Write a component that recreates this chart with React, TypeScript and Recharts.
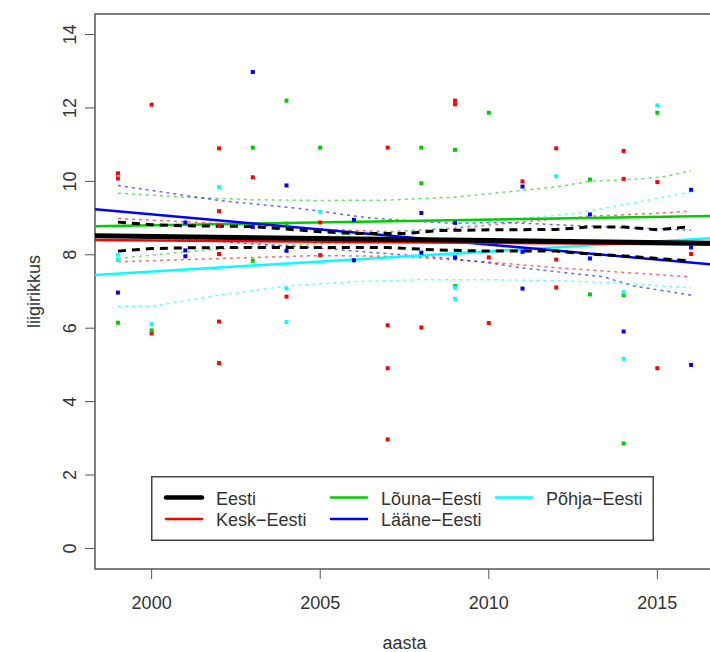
import React from "react";
import {
  ComposedChart,
  XAxis,
  YAxis,
  Scatter,
  Line,
  ReferenceArea,
  Legend,
  Label,
} from "recharts";

// ---------- data ----------
const xTicks = [2000, 2005, 2010, 2015];
const yTicks = [0, 2, 4, 6, 8, 10, 12, 14];
const xDomain: [number, number] = [1998.32, 2016.68];
const yDomain: [number, number] = [-0.56, 14.56];

// observed points [year, value]
const keskPoints: [number, number][] = [
  [1999, 10.08], [1999, 10.22], [2000, 12.09], [2000, 5.86],
  [2002, 10.9], [2002, 9.19], [2002, 8.79], [2002, 8.02], [2002, 6.18], [2002, 5.05],
  [2003, 10.11], [2004, 6.86], [2005, 8.88], [2005, 7.99],
  [2007, 10.92], [2007, 6.08], [2007, 4.91], [2007, 2.97], [2008, 6.02],
  [2009, 12.1], [2009, 12.2], [2010, 7.93], [2010, 6.14], [2011, 10.0],
  [2012, 10.9], [2012, 7.87], [2012, 7.11], [2014, 10.83], [2014, 10.07],
  [2015, 9.98], [2015, 4.91], [2016, 8.02],
];
const lounaPoints: [number, number][] = [
  [1999, 6.15], [2000, 5.94], [2003, 10.92], [2003, 7.84], [2004, 12.2], [2004, 8.85],
  [2005, 10.92], [2008, 10.92], [2008, 9.95], [2009, 10.86], [2009, 7.15],
  [2010, 11.87], [2013, 10.05], [2013, 6.92], [2014, 6.9], [2014, 2.86], [2015, 11.87],
];
const laanePoints: [number, number][] = [
  [1999, 6.97], [2001, 8.88], [2001, 8.12], [2001, 7.96], [2003, 12.98], [2003, 8.76],
  [2004, 9.89], [2004, 8.11], [2006, 8.95], [2006, 7.85], [2008, 9.14], [2008, 8.06],
  [2009, 8.87], [2009, 7.93], [2011, 9.86], [2011, 8.08], [2011, 7.08],
  [2013, 9.1], [2013, 7.9], [2014, 5.91], [2016, 9.77], [2016, 8.2], [2016, 5.0],
];
const pohjaPoints: [number, number][] = [
  [1999, 7.86], [1999, 8.0], [2000, 6.11], [2002, 9.85], [2004, 7.08], [2004, 6.17],
  [2005, 9.17], [2009, 7.1], [2009, 6.8], [2012, 10.14], [2014, 6.98], [2014, 5.17],
  [2015, 12.07],
];

// fitted lines: values at the two plot edges
const fitYears = [1998.32, 2016.68];
const eestiFit = [8.52, 8.31];
const keskFit = [8.4, 8.28];
const lounaFit = [8.78, 9.06];
const laaneFit = [9.24, 7.73];
const pohjaFit = [7.45, 8.46];

// bands [year, value]
const eestiUpper: [number, number][] = [
  [1999, 8.89], [2000, 8.82], [2001, 8.79], [2003, 8.77], [2004, 8.7], [2005, 8.63],
  [2006, 8.58], [2007.5, 8.58], [2008.5, 8.66], [2010, 8.68], [2012, 8.69],
  [2013, 8.76], [2014, 8.76], [2015, 8.68], [2016, 8.77],
];
const eestiLower: [number, number][] = [
  [1999, 8.1], [2000, 8.17], [2001, 8.19], [2003, 8.2], [2005, 8.2], [2007, 8.2],
  [2008.5, 8.13], [2010, 8.1], [2012, 8.1], [2013, 8.02], [2014, 7.97], [2015, 7.9], [2016, 7.83],
];
const keskUpper: [number, number][] = [
  [1999, 8.99], [2001, 8.9], [2003, 8.8], [2005, 8.7], [2007, 8.63], [2009, 8.72],
  [2011, 8.9], [2013, 9.05], [2015, 9.13], [2016, 9.19],
];
const keskLower: [number, number][] = [
  [1999, 7.81], [2002, 7.9], [2005, 7.98], [2007.5, 7.95], [2010, 7.8], [2012, 7.65],
  [2014, 7.52], [2016, 7.4],
];
const lounaUpper: [number, number][] = [
  [1999, 9.68], [2001, 9.57], [2003, 9.5], [2005, 9.48], [2007, 9.49], [2009, 9.57],
  [2010.5, 9.71], [2012, 9.85], [2013, 10.0], [2014.5, 10.07], [2015.2, 10.13], [2016, 10.29],
];
const lounaLower: [number, number][] = [
  [1999, 7.9], [2001, 8.08], [2003, 8.22], [2005, 8.3], [2007.5, 8.35], [2009.5, 8.3],
  [2011, 8.18], [2013, 8.02], [2015, 7.9], [2016, 7.86],
];
const laaneUpper: [number, number][] = [
  [1999, 9.89], [2002, 9.48], [2004.4, 9.26], [2006.4, 9.01], [2008, 8.9], [2009, 8.86],
  [2010.5, 8.88], [2012, 8.82], [2013.5, 8.76], [2016, 8.67],
];
const laaneLower: [number, number][] = [
  [1999, 8.49], [2001, 8.42], [2003, 8.3], [2005, 8.18], [2007, 8.03], [2008.5, 7.93],
  [2010, 7.78], [2011, 7.64], [2013.4, 7.4], [2014.3, 7.15], [2016, 6.9],
];
const pohjaUpper: [number, number][] = [
  [1999, 8.38], [2002, 8.42], [2005, 8.5], [2007, 8.6], [2009, 8.75], [2010.5, 8.95],
  [2012.5, 9.12], [2014.5, 9.45], [2016, 9.71],
];
const pohjaLower: [number, number][] = [
  [1999, 6.6], [2000, 6.6], [2002, 6.9], [2004, 7.15], [2006, 7.27], [2008, 7.32],
  [2010, 7.32], [2012, 7.3], [2014, 7.22], [2016, 7.1],
];

const legendItems = [
  { name: "Eesti", color: "#000000", width: 4.5, col: 0, row: 0 },
  { name: "Kesk\u2212Eesti", color: "#ff0000", width: 2.5, col: 0, row: 1 },
  { name: "L\u00f5una\u2212Eesti", color: "#00cd00", width: 2.5, col: 1, row: 0 },
  { name: "L\u00e4\u00e4ne\u2212Eesti", color: "#0000ff", width: 2.5, col: 1, row: 1 },
  { name: "P\u00f5hja\u2212Eesti", color: "#00ffff", width: 2.5, col: 2, row: 0 },
];

// ---------- helpers ----------
const FONT = '"Liberation Sans", Arial, sans-serif';
const TXT = "#333333";
const toPts = (arr: [number, number][]) => arr.map(([x, y]) => ({ x, y }));
const fitPts = (vals: number[]) => fitYears.map((x, i) => ({ x, y: vals[i] }));

const RED = "#ff0000";
const GREEN = "#00cd00";
const BLUE = "#0000ff";
const CYAN = "#00ffff";

const square = (color: string) => (props: any) => {
  const { cx, cy } = props;
  if (cx == null || cy == null) return <g />;
  return <rect x={cx - 2} y={cy - 2} width={4} height={4} fill={color} />;
};

const YTick = (props: any) => {
  const { y, payload } = props;
  const bx = 76;
  return (
    <text
      x={bx}
      y={y}
      transform={`rotate(-90, ${bx}, ${y})`}
      textAnchor="middle"
      fontSize={18}
      fontFamily={FONT}
      fill={TXT}
    >
      {payload.value}
    </text>
  );
};

const XTick = (props: any) => {
  const { x, payload } = props;
  return (
    <text x={x} y={609} textAnchor="middle" fontSize={18} fontFamily={FONT} fill={TXT}>
      {payload.value}
    </text>
  );
};

const LegendBox = () => {
  const colX = [15, 180, 345];
  const rowY = [21.5, 43];
  return (
    <svg width={504} height={66} style={{ display: "block" }}>
      <rect x={0.75} y={0.75} width={501.5} height={63.5} fill="#ffffff" stroke="#444" strokeWidth={1.5} />
      {legendItems.map((it) => (
        <g key={it.name}>
          <line
            x1={colX[it.col]}
            x2={colX[it.col] + 36}
            y1={rowY[it.row]}
            y2={rowY[it.row]}
            stroke={it.color}
            strokeWidth={it.width}
            strokeLinecap="round"
          />
          <text
            x={colX[it.col] + 50}
            y={rowY[it.row] + 7}
            fontSize={18}
            fontFamily={FONT}
            fill={TXT}
          >
            {it.name}
          </text>
        </g>
      ))}
    </svg>
  );
};

const dotted = { strokeDasharray: "3 4", strokeWidth: 1.5, strokeOpacity: 0.6 };

export default function App() {
  const bands: { data: [number, number][]; color: string; key: string }[] = [
    { data: keskUpper, color: RED, key: "ku" },
    { data: keskLower, color: RED, key: "kl" },
    { data: lounaUpper, color: GREEN, key: "lu" },
    { data: lounaLower, color: GREEN, key: "ll" },
    { data: laaneUpper, color: BLUE, key: "au" },
    { data: laaneLower, color: BLUE, key: "al" },
    { data: pohjaUpper, color: CYAN, key: "pu" },
    { data: pohjaLower, color: CYAN, key: "pl" },
  ];
  const fits = [
    { data: pohjaFit, color: CYAN, key: "fp" },
    { data: lounaFit, color: GREEN, key: "fl" },
    { data: laaneFit, color: BLUE, key: "fa" },
    { data: keskFit, color: RED, key: "fk" },
  ];
  return (
    <div
      style={{
        position: "absolute",
        left: 0,
        top: 0,
        width: 710,
        height: 652,
        overflow: "hidden",
        background: "#fff",
      }}
    >
      <ComposedChart width={720} height={652} margin={{ top: 14, right: 6, bottom: 0, left: 0 }}>
        <XAxis
          type="number"
          dataKey="x"
          domain={xDomain}
          ticks={xTicks}
          allowDataOverflow
          height={83}
          tickSize={10}
          tickLine={{ stroke: "#555", strokeWidth: 1 }}
          axisLine={false}
          tick={<XTick />}
          interval={0}
        >
          <Label
            content={() => (
              <text x={404.5} y={649} textAnchor="middle" fontSize={18} fontFamily={FONT} fill={TXT}>
                aasta
              </text>
            )}
          />
        </XAxis>
        <YAxis
          type="number"
          dataKey="y"
          domain={yDomain}
          ticks={yTicks}
          allowDataOverflow
          width={95}
          tickSize={10}
          tickLine={{ stroke: "#555", strokeWidth: 1 }}
          axisLine={false}
          tick={<YTick />}
          interval={0}
        >
          <Label
            content={() => (
              <text
                x={40}
                y={291.5}
                transform="rotate(-90, 40, 291.5)"
                textAnchor="middle"
                fontSize={18}
                fontFamily={FONT}
                fill={TXT}
              >
                liigirikkus
              </text>
            )}
          />
        </YAxis>
        <ReferenceArea
          x1={xDomain[0]}
          x2={xDomain[1]}
          y1={yDomain[0]}
          y2={yDomain[1]}
          fill="none"
          stroke="#555"
          strokeWidth={1.5}
          ifOverflow="visible"
        />
        <Scatter data={toPts(keskPoints)} fill={RED} shape={square(RED)} isAnimationActive={false} />
        <Scatter data={toPts(lounaPoints)} fill={GREEN} shape={square(GREEN)} isAnimationActive={false} />
        <Scatter data={toPts(laanePoints)} fill={BLUE} shape={square(BLUE)} isAnimationActive={false} />
        <Scatter data={toPts(pohjaPoints)} fill={CYAN} shape={square(CYAN)} isAnimationActive={false} />
        {bands.map((b) => (
          <Line
            key={b.key}
            data={toPts(b.data)}
            dataKey="y"
            type="linear"
            stroke={b.color}
            {...dotted}
            dot={false}
            activeDot={false}
            isAnimationActive={false}
            legendType="none"
          />
        ))}
        {fits.map((f) => (
          <Line
            key={f.key}
            data={fitPts(f.data)}
            dataKey="y"
            type="linear"
            stroke={f.color}
            strokeWidth={2.5}
            dot={false}
            activeDot={false}
            isAnimationActive={false}
            legendType="none"
          />
        ))}
        <Line
          data={toPts(eestiUpper)}
          dataKey="y"
          type="linear"
          stroke="#000"
          strokeWidth={3}
          strokeDasharray="8 6"
          dot={false}
          activeDot={false}
          isAnimationActive={false}
          legendType="none"
        />
        <Line
          data={toPts(eestiLower)}
          dataKey="y"
          type="linear"
          stroke="#000"
          strokeWidth={3}
          strokeDasharray="8 6"
          dot={false}
          activeDot={false}
          isAnimationActive={false}
          legendType="none"
        />
        <Line
          data={fitPts(eestiFit)}
          dataKey="y"
          type="linear"
          stroke="#000"
          strokeWidth={5}
          dot={false}
          activeDot={false}
          isAnimationActive={false}
          legendType="none"
        />
        <Legend
          layout="vertical"
          align="center"
          verticalAlign="middle"
          wrapperStyle={{ position: "absolute", left: 151, top: 476, width: 504, height: 66 }}
          content={() => <LegendBox />}
        />
      </ComposedChart>
    </div>
  );
}
